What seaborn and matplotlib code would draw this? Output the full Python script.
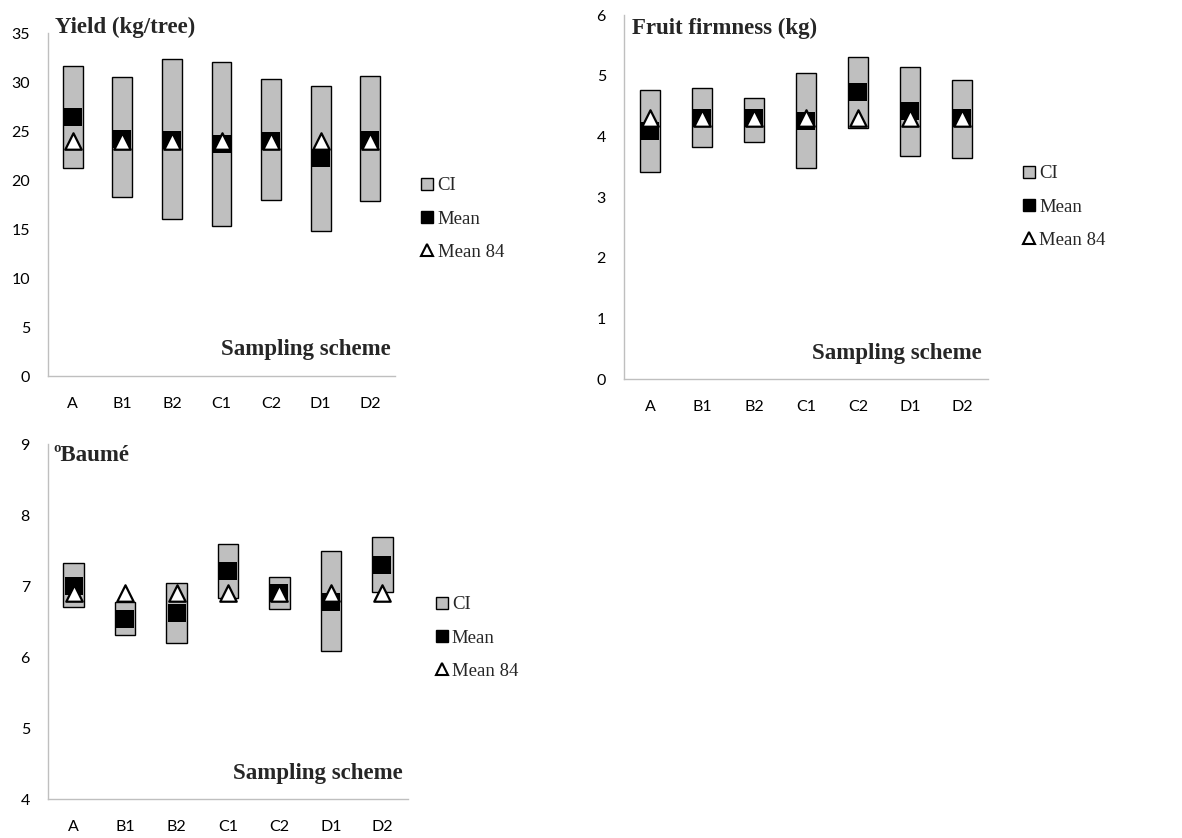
import matplotlib
matplotlib.use("Agg")
import matplotlib.pyplot as plt
from matplotlib.lines import Line2D
import seaborn as sns

schemes = ['A', 'B1', 'B2', 'C1', 'C2', 'D1', 'D2']

# Yield (kg/tree)
yield_low = [21.2, 18.3, 16.0, 15.3, 18.0, 14.8, 17.9]
yield_high = [31.6, 30.5, 32.3, 32.0, 30.3, 29.6, 30.6]
yield_mean = [26.4, 24.2, 24.1, 23.7, 24.0, 22.2, 24.1]
yield_mean84 = [24.0, 24.0, 24.0, 24.0, 24.0, 24.0, 24.0]

# Fruit firmness (kg)
firm_low = [3.42, 3.82, 3.91, 3.47, 4.14, 3.68, 3.64]
firm_high = [4.77, 4.79, 4.64, 5.05, 5.30, 5.14, 4.93]
firm_mean = [4.09, 4.30, 4.30, 4.26, 4.73, 4.41, 4.30]
firm_mean84 = [4.3, 4.3, 4.3, 4.3, 4.3, 4.3, 4.3]

# ºBaumé
baume_low = [6.70, 6.31, 6.20, 6.83, 6.68, 6.08, 6.91]
baume_high = [7.32, 6.77, 7.04, 7.59, 7.13, 7.50, 7.69]
baume_mean = [7.00, 6.54, 6.62, 7.21, 6.90, 6.78, 7.30]
baume_mean84 = [6.9, 6.9, 6.9, 6.9, 6.9, 6.9, 6.9]

sns.set_style("white")
plt.rcParams['font.family'] = ['Lato', 'DejaVu Sans']

serif = 'Liberation Serif'
fig = plt.figure(figsize=(11.82, 8.38), dpi=100)


def draw_panel(rect, low, high, mean, mean84, ymax, title, title_xy, scheme_xy, leg_xy):
    ax = fig.add_axes(rect)
    heights = [h - l for h, l in zip(high, low)]
    sns.barplot(x=schemes, y=heights, bottom=low, color='#bfbfbf', saturation=1,
                edgecolor='black', linewidth=1, width=0.4, errorbar=None, ax=ax, zorder=2)
    sns.scatterplot(x=schemes, y=mean, marker='s', s=150, color='black',
                    edgecolor='black', linewidth=0, ax=ax, zorder=3, legend=False)
    sns.scatterplot(x=schemes, y=mean84, marker='^', s=140, color='white',
                    edgecolor='black', linewidth=1.6, ax=ax, zorder=4, legend=False)
    ax.set_ylim(ymax[0], ymax[1])
    ax.set_yticks(ymax[2])
    ax.set_xlim(-0.5, 6.5)
    for side in ['top', 'right']:
        ax.spines[side].set_visible(False)
    for side in ['left', 'bottom']:
        ax.spines[side].set_color('#bfbfbf')
        ax.spines[side].set_linewidth(1)
    ax.tick_params(axis='both', length=0, labelsize=11.5, colors='black')
    ax.tick_params(axis='x', pad=15)
    ax.tick_params(axis='y', pad=13)
    ax.set_xlabel('')
    ax.set_ylabel('')
    ax.text(title_xy[0], title_xy[1], title, transform=ax.transAxes, family=serif,
            fontweight='bold', fontsize=16.5, ha='left', va='center')
    ax.text(scheme_xy[0], scheme_xy[1], 'Sampling scheme', transform=ax.transAxes,
            family=serif, fontweight='bold', fontsize=16.5, ha='right', va='center')
    handles = [
        Line2D([], [], linestyle='none', marker='s', markersize=8,
               markerfacecolor='#bfbfbf', markeredgecolor='black', markeredgewidth=1),
        Line2D([], [], linestyle='none', marker='s', markersize=9,
               markerfacecolor='black', markeredgecolor='black'),
        Line2D([], [], linestyle='none', marker='^', markersize=9,
               markerfacecolor='white', markeredgecolor='black', markeredgewidth=1.5),
    ]
    ax.legend(handles, ['CI', 'Mean', 'Mean 84'], loc='center left',
              bbox_to_anchor=leg_xy, bbox_transform=fig.transFigure, frameon=False,
              prop={'family': serif, 'size': 13.5}, handlelength=0.7,
              handletextpad=0.2, labelspacing=0.85, borderpad=0, borderaxespad=0)
    return ax


draw_panel([0.0406, 0.5513, 0.2936, 0.4093], yield_low, yield_high, yield_mean, yield_mean84,
           (0, 35, range(0, 36, 5)), 'Yield (kg/tree)', (0.02, 1.015), (0.988, 0.076),
           (0.356, 0.7387))
draw_panel([0.5279, 0.5477, 0.3080, 0.4344], firm_low, firm_high, firm_mean, firm_mean84,
           (0, 6, range(0, 7)), 'Fruit firmness (kg)', (0.022, 0.964), (0.984, 0.069),
           (0.865, 0.753))
draw_panel([0.0406, 0.0465, 0.3046, 0.4236], baume_low, baume_high, baume_mean, baume_mean84,
           (4, 9, range(4, 10)), 'ºBaumé', (0.014, 0.969), (0.986, 0.073),
           (0.368, 0.2387))

fig.savefig('out.png', dpi=100)
